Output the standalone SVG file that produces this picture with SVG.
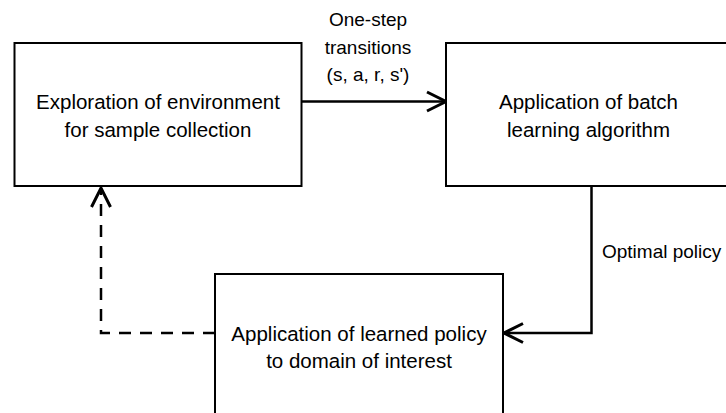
<svg xmlns="http://www.w3.org/2000/svg" width="726" height="413" viewBox="0 0 726 413">
  <style>
    .box { fill: #ffffff; stroke: #000000; stroke-width: 2; }
    .t { font-family: "Liberation Sans", Arial, sans-serif; font-size: 20.5px; fill: #000000; text-anchor: middle; }
    .lbl { font-family: "Liberation Sans", Arial, sans-serif; font-size: 19px; fill: #000000; }
    .edge { fill: none; stroke: #000000; stroke-width: 2.5; }
    .dash { stroke-dasharray: 12 9; }
  </style>
  <defs>
    <marker id="chev" markerUnits="userSpaceOnUse" viewBox="-24 -14 28 28" markerWidth="28" markerHeight="28" refX="0" refY="0" orient="auto">
      <path d="M -19 -9.5 L 0 0 L -19 9.5" fill="none" stroke="#000000" stroke-width="3" stroke-linejoin="miter"/>
    </marker>
  </defs>
  <rect width="726" height="413" fill="#ffffff"/>

  <g id="edges">
    <line class="edge" x1="302" y1="101.5" x2="446" y2="101.5" marker-end="url(#chev)"/>
    <polyline class="edge" points="591.5,186 591.5,333 504,333" marker-end="url(#chev)"/>
    <polyline class="edge dash" points="215,333 101,333 101,188" marker-end="url(#chev)"/>
  </g>

  <g id="node-exploration">
    <rect class="box" x="14.5" y="43" width="287" height="143"/>
    <text class="t" x="158" y="109">Exploration of environment</text>
    <text class="t" x="158" y="137">for sample collection</text>
  </g>

  <g id="node-batch">
    <rect class="box" x="446" y="43" width="300" height="143"/>
    <text class="t" x="588.5" y="109">Application of batch</text>
    <text class="t" x="588.5" y="137">learning algorithm</text>
  </g>

  <g id="node-policy">
    <rect class="box" x="215" y="274" width="288" height="160"/>
    <text class="t" x="359" y="341">Application of learned policy</text>
    <text class="t" x="359" y="368">to domain of interest</text>
  </g>

  <g id="labels">
    <text class="lbl" x="368" y="26" text-anchor="middle">One-step</text>
    <text class="lbl" x="368" y="54" text-anchor="middle">transitions</text>
    <text class="lbl" x="368" y="81" text-anchor="middle">(s, a, r, s')</text>
    <text class="lbl" x="602" y="258">Optimal policy</text>
  </g>
</svg>
